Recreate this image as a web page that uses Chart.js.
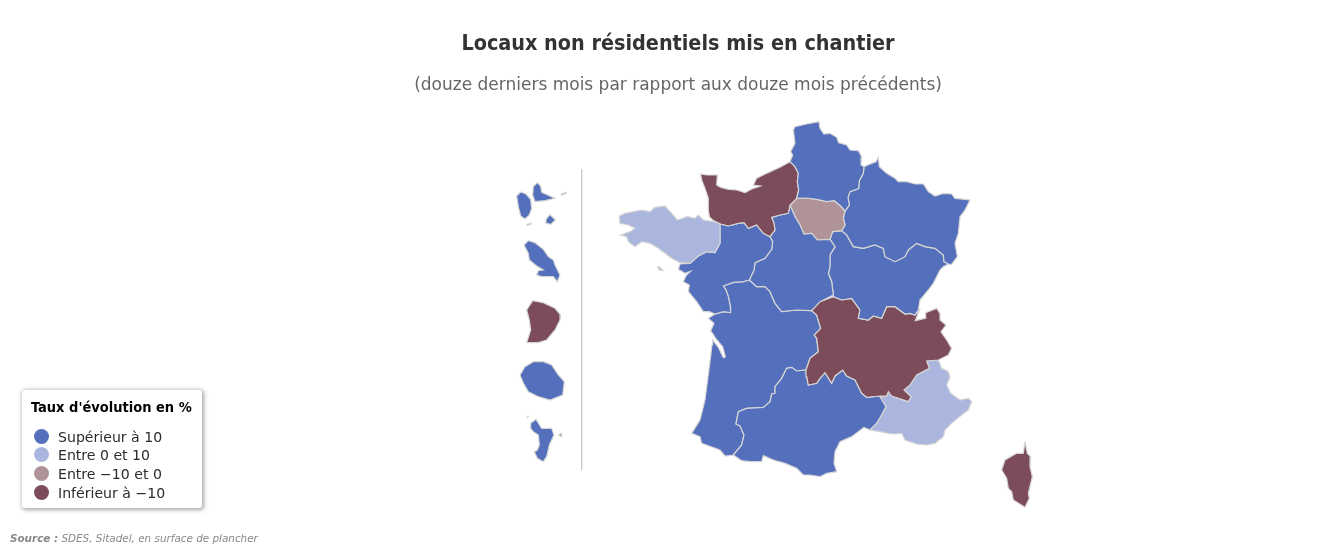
<!DOCTYPE html>
<html lang="fr">
<head>
<meta charset="utf-8">
<title>Locaux non résidentiels mis en chantier</title>
<script src="https://cdn.jsdelivr.net/npm/chart.js@4"></script>
<style>
html,body{margin:0;padding:0;background:#fff;width:1342px;height:547px;overflow:hidden;font-family:"DejaVu Sans",sans-serif}
#wrap{position:relative;width:1342px;height:547px}
canvas{position:absolute;left:0;top:0}
#legend{position:absolute;left:22px;top:390px;width:180px;height:118px;box-sizing:border-box;background:#fff;border-radius:3px;box-shadow:1px 1px 4px 1px rgba(0,0,0,.35)}
#legend .t{position:absolute;left:9px;top:9px;font-family:"DejaVu Sans Condensed","DejaVu Sans",sans-serif;font-size:14.5px;line-height:17px;font-weight:bold;color:#000;white-space:nowrap}
#legend .r{position:absolute;left:36px;font-size:14.1px;line-height:18px;color:#2b2b2b;white-space:nowrap}
#legend .d{position:absolute;left:12px;width:15px;height:15px;border-radius:50%}
#source{position:absolute;left:10px;top:532px;font-size:10.4px;line-height:13px;font-style:italic;color:#888;white-space:nowrap}
</style>
</head>
<body>
<div id="wrap">
<canvas id="c" width="1342" height="547"></canvas>
<div id="legend"></div>
<div id="source"></div>
</div>
<script>
const titleText = "Locaux non résidentiels mis en chantier";
const subtitleText = "(douze derniers mois par rapport aux douze mois précédents)";
const legendTitle = "Taux d'évolution en %";
const classLabels = ["Supérieur à 10", "Entre 0 et 10", "Entre −10 et 0", "Inférieur à −10"];
const classColors = ["#546FBB", "#AAB6DE", "#B09399", "#7D4C5B"];
const sourceBold = "Source :";
const sourceText = " SDES, Sitadel, en surface de plancher";

const hautsDeFrance = [[657,35],[660,55],[672,72],[690,70],[710,82],[716,98],[740,105],[750,120],[775,122],[785,140],[783,165],[792,170],[790,190],[778,212],[776,236],[750,245],[744,262],[748,285],[735,303],[722,288],[703,272],[680,275],[650,268],[620,264],[590,265],[596,240],[592,215],[595,190],[585,170],[570,155],[578,135],[572,125],[585,100],[580,60],[585,50],[620,42]];
const normandie = [[570,155],[540,172],[500,190],[470,205],[460,225],[482,228],[460,235],[435,248],[410,240],[385,238],[362,232],[350,225],[352,195],[320,195],[302,192],[305,210],[315,235],[325,265],[325,300],[328,320],[340,332],[362,342],[385,348],[415,340],[432,338],[445,355],[470,345],[490,370],[510,380],[525,360],[522,340],[515,322],[540,315],[565,310],[570,285],[590,265],[596,240],[592,215],[595,190],[585,170]];
const bretagne = [[360,340],[360,400],[345,428],[320,425],[295,438],[270,460],[240,458],[215,445],[195,430],[175,415],[150,400],[125,395],[105,410],[85,395],[80,380],[62,375],[90,365],[105,355],[85,345],[60,340],[58,318],[75,310],[100,305],[125,300],[150,305],[165,292],[195,288],[215,310],[232,330],[262,320],[285,325],[295,315],[310,330],[340,335]];
const belleIle = [[172,470],[180,472],[189,482],[178,480]];
const paysDeLaLoire = [[360,342],[385,348],[415,340],[432,338],[445,355],[470,345],[490,370],[510,380],[518,395],[515,418],[495,445],[465,458],[462,480],[448,510],[430,515],[400,517],[370,528],[378,540],[385,560],[391,590],[392,608],[370,605],[345,612],[328,605],[310,605],[290,575],[265,545],[268,525],[250,515],[258,497],[272,484],[255,490],[235,478],[240,462],[270,460],[295,438],[320,425],[345,428],[360,400]];
const centreValDeLoire = [[515,322],[540,315],[565,310],[570,285],[585,320],[600,345],[612,372],[635,370],[652,390],[690,388],[705,410],[690,435],[690,470],[685,490],[695,515],[700,555],[660,575],[635,602],[590,600],[545,605],[525,580],[510,545],[495,530],[470,530],[448,510],[462,480],[465,458],[495,445],[515,418],[518,395],[510,380],[525,360],[522,340]];
const ileDeFrance = [[590,265],[620,264],[650,268],[680,275],[703,272],[722,288],[735,303],[730,325],[735,345],[725,362],[698,365],[690,388],[652,390],[635,370],[612,372],[600,345],[585,320],[570,285]];
const grandEst = [[792,170],[815,160],[828,155],[835,142],[838,170],[860,190],[885,205],[895,215],[920,215],[945,222],[970,222],[985,245],[1005,258],[1030,250],[1055,252],[1065,265],[1110,270],[1095,300],[1080,320],[1075,370],[1065,400],[1072,440],[1055,463],[1045,462],[1032,455],[1030,435],[1005,415],[975,410],[950,400],[925,420],[915,440],[885,455],[855,440],[850,415],[825,405],[790,415],[760,410],[740,375],[725,362],[735,345],[730,325],[735,303],[748,285],[744,262],[750,245],[776,236],[778,212],[790,190]];
const bourgogneFrancheComte = [[698,365],[725,362],[740,375],[760,410],[790,415],[825,405],[850,415],[855,440],[885,455],[915,440],[925,420],[950,400],[975,410],[1005,415],[1030,435],[1032,455],[1045,462],[1030,470],[1020,480],[1000,520],[985,540],[960,570],[955,600],[945,615],[930,610],[915,612],[885,590],[860,590],[845,625],[820,618],[805,630],[775,625],[780,600],[755,565],[725,570],[700,560],[695,515],[685,490],[690,470],[690,435],[705,410],[690,388]];
const auvergneRhoneAlpes = [[635,602],[660,575],[700,560],[725,570],[755,565],[780,600],[775,625],[805,630],[820,618],[845,625],[860,590],[885,590],[915,612],[930,610],[945,615],[958,600],[946,632],[975,625],[977,608],[1010,595],[1020,610],[1020,630],[1038,645],[1023,665],[1040,690],[1055,715],[1045,735],[1015,750],[980,753],[988,775],[950,795],[930,825],[912,840],[933,860],[925,875],[895,865],[875,858],[865,845],[860,858],[840,858],[800,862],[785,850],[765,810],[740,798],[728,780],[705,798],[695,820],[675,788],[660,805],[650,820],[625,825],[620,800],[618,780],[630,745],[655,725],[650,685],[643,675],[662,655],[650,615]];
const paca = [[980,753],[1015,750],[1025,775],[1045,785],[1050,802],[1040,825],[1052,850],[1080,870],[1105,865],[1115,875],[1105,900],[1085,915],[1060,935],[1035,960],[1030,980],[1005,1000],[980,1005],[950,1002],[915,990],[905,970],[880,972],[865,970],[840,965],[810,960],[830,940],[845,915],[858,890],[840,860],[860,858],[865,845],[875,858],[895,865],[925,875],[933,860],[912,840],[930,825],[950,795],[988,775]];
const occitanie = [[415,905],[440,895],[490,892],[510,875],[515,852],[525,850],[525,830],[545,805],[560,775],[575,772],[590,783],[618,780],[620,800],[625,825],[650,820],[660,805],[675,788],[695,820],[705,798],[728,780],[740,798],[765,810],[785,850],[800,862],[840,858],[858,890],[845,915],[830,940],[810,960],[792,952],[755,980],[720,995],[705,1025],[702,1060],[710,1085],[680,1090],[660,1100],[630,1095],[610,1095],[590,1075],[555,1060],[520,1050],[490,1037],[485,1055],[450,1055],[425,1052],[400,1035],[425,1005],[432,975],[420,948],[408,942]];
const nouvelleAquitaine = [[370,528],[400,517],[430,515],[448,510],[470,530],[495,530],[510,545],[525,580],[545,605],[590,600],[635,602],[650,615],[662,655],[643,675],[650,685],[655,725],[630,745],[618,780],[590,783],[575,772],[560,775],[545,805],[525,830],[525,850],[515,852],[510,875],[490,892],[440,895],[415,905],[408,942],[420,948],[432,975],[425,1005],[400,1035],[375,1038],[360,1020],[305,1000],[300,980],[275,970],[300,930],[315,870],[330,755],[336,705],[338,690],[355,712],[370,743],[376,740],[368,710],[347,685],[332,662],[342,640],[325,625],[345,612],[370,605],[392,608],[391,590],[385,560],[378,540]];
const corse = [[1275,995],[1282,1030],[1292,1040],[1290,1070],[1297,1100],[1285,1150],[1288,1165],[1275,1192],[1240,1170],[1235,1145],[1225,1135],[1220,1105],[1205,1080],[1215,1050],[1250,1030],[1270,1030]];
const basseTerre = [[-250,258],[-238,246],[-222,252],[-208,268],[-205,295],[-212,315],[-225,327],[-238,318],[-245,290]];
const grandeTerre = [[-200,230],[-188,218],[-178,228],[-175,247],[-150,258],[-135,265],[-165,272],[-195,275],[-202,255]];
const marieGalante = [[-162,328],[-150,314],[-134,330],[-148,343],[-160,340]];
const martinique = [[-228,405],[-215,392],[-195,398],[-170,418],[-155,440],[-140,450],[-135,465],[-120,495],[-128,515],[-140,500],[-175,500],[-190,495],[-185,482],[-170,480],[-190,468],[-212,450],[-215,430]];
const guyane = [[-220,600],[-202,572],[-170,578],[-135,595],[-118,615],[-120,630],[-135,660],[-160,690],[-185,698],[-220,698],[-208,660],[-212,630]];
const reunion = [[-240,795],[-225,770],[-200,755],[-170,755],[-145,765],[-125,795],[-107,815],[-112,855],[-150,870],[-185,860],[-215,845],[-230,820]];
const mayotte = [[-208,940],[-192,928],[-175,955],[-145,955],[-138,975],[-152,1005],[-160,1040],[-170,1055],[-188,1045],[-197,1025],[-188,1020],[-182,1005],[-185,975],[-200,965],[-208,955]];
const petiteTerre = [[-125,975],[-115,970],[-115,980]];
const desirade = [[-117,255],[-100,247]];
const saintes = [[-220,345],[-205,340]];
const mbouzi = [[-218,920],[-215,922]];
const separator = [[-55,177],[-55,1080]];

// [nom, contour, classe] : classe = rang dans classLabels
const regions = [
  ["Hauts-de-France",hautsDeFrance,0],["Normandie",normandie,3],["Bretagne",bretagne,1],["Belle-Île",belleIle,1],
  ["Pays de la Loire",paysDeLaLoire,0],["Centre-Val de Loire",centreValDeLoire,0],["Île-de-France",ileDeFrance,2],
  ["Grand Est",grandEst,0],["Bourgogne-Franche-Comté",bourgogneFrancheComte,0],["Auvergne-Rhône-Alpes",auvergneRhoneAlpes,3],
  ["Provence-Alpes-Côte d'Azur",paca,1],["Occitanie",occitanie,0],["Nouvelle-Aquitaine",nouvelleAquitaine,0],["Corse",corse,3],
  ["Guadeloupe",basseTerre,0],["Guadeloupe (Grande-Terre)",grandeTerre,0],["Marie-Galante",marieGalante,0],
  ["Martinique",martinique,0],["Guyane",guyane,3],["La Réunion",reunion,0],["Mayotte",mayotte,0],["Petite-Terre",petiteTerre,0]
];
const strokes = [["Désirade",desirade,"#CCCCCC",2],["Les Saintes",saintes,"#CCCCCC",2],["Mbouzi",mbouzi,"#CCCCCC",3],["Séparateur",separator,"#CCCCCC",1]];

const toXY = pts => pts.map(p => ({x:p[0], y:p[1]}));
const datasets = regions.map(([label,pts,k]) => ({
  label, data: toXY(pts.concat([pts[0]])), showLine:true, fill:'shape',
  backgroundColor: classColors[k], borderColor:'#D6D6D6', borderWidth:1.2,
  pointRadius:0, pointHoverRadius:0, tension:0
})).concat(strokes.map(([label,pts,col,w]) => ({
  label, data: toXY(pts), showLine:true, fill:false, borderColor:col, borderWidth:w,
  pointRadius:0, pointHoverRadius:0, tension:0
})));

const titleSize = 21.4, subSize = 17;
const titlePadTop = 32, subPadTop = 18, leftPad = 14;
const areaTop = titlePadTop + titleSize*1.2 + subPadTop + subSize*1.2;

new Chart(document.getElementById('c'), {
  type:'scatter',
  data:{datasets},
  options:{
    responsive:false, animation:false, devicePixelRatio:1,
    layout:{padding:{left:leftPad}},
    scales:{
      x:{type:'linear',display:false,min:3*(leftPad-600),max:2226},
      y:{type:'linear',display:false,reverse:true,min:3*(areaTop-110),max:1311}
    },
    plugins:{
      legend:{display:false},
      tooltip:{enabled:false},
      title:{display:true,text:titleText,color:'#333333',font:{family:'"DejaVu Sans Condensed","DejaVu Sans"',size:titleSize,weight:'bold',lineHeight:1.2},padding:{top:titlePadTop,bottom:0}},
      subtitle:{display:true,text:subtitleText,color:'#666666',font:{family:'"DejaVu Sans"',size:subSize,weight:'normal',lineHeight:1.2},padding:{top:subPadTop,bottom:0}}
    }
  }
});

const lg = document.getElementById('legend');
const tt = document.createElement('div'); tt.className='t'; tt.textContent=legendTitle; lg.appendChild(tt);
const rowTops = [38,56,75,94];
classLabels.forEach((lab,i)=>{
  const d=document.createElement('span'); d.className='d'; d.style.top=(rowTops[i]+1)+'px'; d.style.background=classColors[i]; lg.appendChild(d);
  const r=document.createElement('div'); r.className='r'; r.style.top=rowTops[i]+'px'; r.textContent=lab; lg.appendChild(r);
});
const s=document.getElementById('source');
const b=document.createElement('b'); b.textContent=sourceBold; s.appendChild(b);
s.appendChild(document.createTextNode(sourceText));
</script>
</body>
</html>
